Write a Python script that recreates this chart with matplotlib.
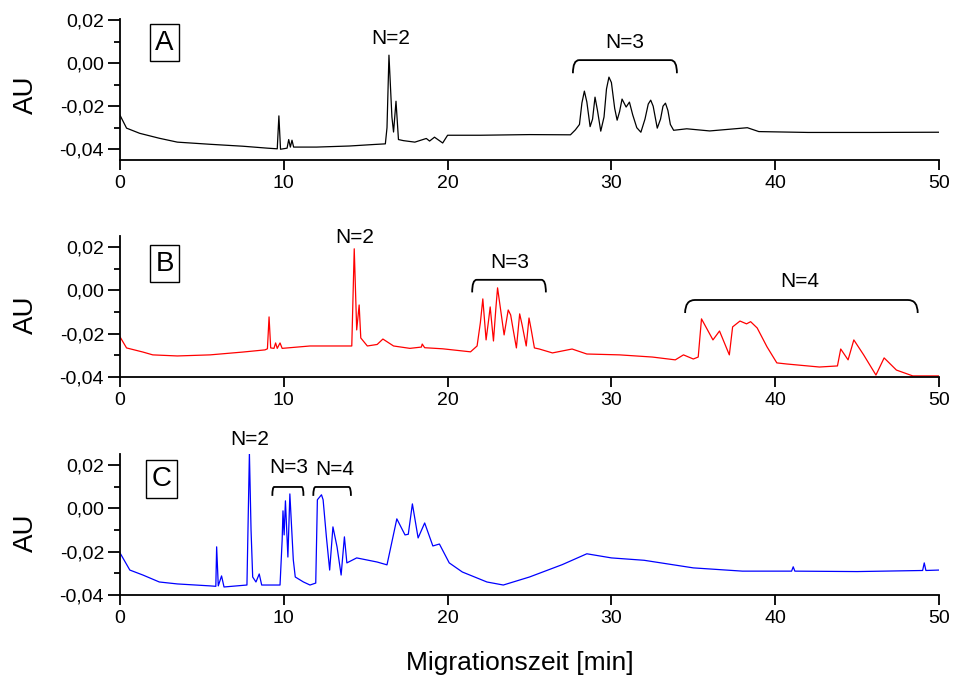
import matplotlib
matplotlib.use("Agg")
import matplotlib.pyplot as plt
from matplotlib.path import Path
from matplotlib.patches import PathPatch
from matplotlib.ticker import FuncFormatter, MultipleLocator

plt.rcParams['font.family'] = ['Liberation Sans', 'DejaVu Sans']

# --- Elektropherogramm A (schwarz) ---
t_a = [0, 0.4, 1.2, 2.4, 3.5, 5.5, 7.5, 9.0, 9.6, 9.7, 9.8, 10.2, 10.3, 10.4,
       10.5, 10.6, 12, 14, 15.5, 16.2, 16.3, 16.42, 16.6, 16.7, 16.85, 17.0,
       17.3, 18.0, 18.7, 18.9, 19.2, 19.7, 20.0, 22, 25, 27.5, 27.8, 28.05,
       28.2, 28.35, 28.5, 28.7, 28.85, 29.0, 29.15, 29.35, 29.55, 29.7, 29.85,
       30.0, 30.2, 30.35, 30.5, 30.65, 30.9, 31.1, 31.3, 31.55, 31.8, 32.05,
       32.25, 32.4, 32.55, 32.8, 33.0, 33.15, 33.3, 33.45, 33.6, 33.8, 34.6,
       36, 38.3, 39, 42, 46, 50]
au_a = [-0.0242, -0.0302, -0.0326, -0.0349, -0.0367, -0.0377, -0.0386, -0.0395,
        -0.0398, -0.0245, -0.0400, -0.0395, -0.0355, -0.0390, -0.0358, -0.0390,
        -0.0390, -0.0385, -0.0378, -0.0375, -0.0300, 0.0037, -0.0250, -0.0320,
        -0.0177, -0.0355, -0.0360, -0.0367, -0.0350, -0.0362, -0.0344, -0.0371,
        -0.0335, -0.0335, -0.0332, -0.0333, -0.0310, -0.0285, -0.0185, -0.0130,
        -0.0180, -0.0295, -0.0260, -0.0158, -0.0220, -0.0316, -0.0250, -0.0120,
        -0.0065, -0.0090, -0.0210, -0.0265, -0.0225, -0.0167, -0.0204, -0.0181,
        -0.0240, -0.0300, -0.0321, -0.0260, -0.0190, -0.0172, -0.0200, -0.0302,
        -0.0260, -0.0200, -0.0186, -0.0220, -0.0285, -0.0312, -0.0305, -0.0315,
        -0.0300, -0.0318, -0.0322, -0.0322, -0.0321]

# --- Elektropherogramm B (rot) ---
t_b = [0, 0.4, 1.4, 2.0, 3.5, 5.5, 7.5, 8.85, 9.0, 9.1, 9.2, 9.4, 9.5, 9.6,
       9.77, 9.9, 11.6, 13.6, 14.15, 14.3, 14.45, 14.6, 14.7, 15.1, 15.7,
       16.05, 16.7, 17.7, 18.4, 18.45, 18.6, 19.7, 21.4, 21.8, 22.0, 22.15,
       22.35, 22.5, 22.6, 22.8, 22.95, 23.05, 23.2, 23.45, 23.7, 23.85, 24.0,
       24.2, 24.4, 24.55, 24.8, 24.97, 25.1, 25.3, 25.6, 26.4, 27.6, 28.5,
       30.5, 32.5, 33.9, 34.4, 35.0, 35.3, 35.5, 36.2, 36.6, 37.2, 37.4, 37.85,
       38.25, 38.5, 38.9, 39.5, 40.1, 40.7, 42.7, 43.8, 44.0, 44.45, 44.8,
       45.4, 46.15, 46.65, 47.4, 48.4, 50]
au_b = [-0.0215, -0.0266, -0.0285, -0.0298, -0.0303, -0.0298, -0.0285, -0.0275,
        -0.0270, -0.0123, -0.0266, -0.0268, -0.0243, -0.0268, -0.0243, -0.0268,
        -0.0257, -0.0257, -0.0257, 0.0191, -0.0183, -0.0068, -0.0220, -0.0257,
        -0.0250, -0.0225, -0.0257, -0.0268, -0.0262, -0.0248, -0.0265, -0.0270,
        -0.0284, -0.0257, -0.0150, -0.0040, -0.0229, -0.0140, -0.0077, -0.0234,
        -0.0080, 0.0011, -0.0070, -0.0206, -0.0091, -0.0114, -0.0180, -0.0266,
        -0.0109, -0.0160, -0.0257, -0.0128, -0.0180, -0.0266, -0.0271, -0.0289,
        -0.0271, -0.0294, -0.0298, -0.0308, -0.0321, -0.0298, -0.0317, -0.0308,
        -0.0132, -0.0229, -0.0188, -0.0298, -0.0169, -0.0142, -0.0155, -0.0145,
        -0.0174, -0.0261, -0.0335, -0.0340, -0.0354, -0.0349, -0.0271, -0.0321,
        -0.0229, -0.0298, -0.0391, -0.0312, -0.0368, -0.0395, -0.0395]

# --- Elektropherogramm C (blau) ---
t_c = [0, 0.6, 1.4, 2.4, 3.5, 5.5, 5.85, 5.9, 6.0, 6.2, 6.35, 7.75, 7.9, 8.0,
       8.1, 8.3, 8.5, 8.65, 9.77, 9.9, 9.95, 10.02, 10.1, 10.25, 10.37, 10.58,
       10.7, 11.2, 11.6, 11.95, 12.05, 12.3, 12.4, 12.6, 12.8, 13.0, 13.25,
       13.5, 13.7, 13.85, 14.45, 15.7, 16.3, 16.9, 17.4, 17.6, 17.85, 18.2,
       18.6, 19.1, 19.5, 20.1, 20.9, 22.4, 23.4, 25.0, 27.0, 28.5, 30.0, 32.0,
       35.0, 38.0, 41.0, 41.1, 41.2, 45, 49.0, 49.1, 49.2, 50]
au_c = [-0.0206, -0.0285, -0.0308, -0.0340, -0.0349, -0.0358, -0.0360, -0.0178,
        -0.0358, -0.0312, -0.0363, -0.0354, 0.0255, -0.0100, -0.0317, -0.0340,
        -0.0303, -0.0354, -0.0354, -0.0146, -0.0012, -0.0123, 0.0034, -0.0225,
        0.0066, -0.0238, -0.0317, -0.0340, -0.0354, -0.0345, 0.0039, 0.0062,
        0.0039, -0.0132, -0.0285, -0.0086, -0.0178, -0.0308, -0.0132, -0.0252,
        -0.0229, -0.0248, -0.0261, -0.0049, -0.0123, -0.0120, 0.0020, -0.0137,
        -0.0068, -0.0174, -0.0165, -0.0252, -0.0294, -0.0340, -0.0354, -0.0317,
        -0.0260, -0.0210, -0.0229, -0.0240, -0.0275, -0.0290, -0.0290, -0.0270,
        -0.0290, -0.0292, -0.0287, -0.0252, -0.0287, -0.0285]

x_ticks = [0, 10, 20, 30, 40, 50]
y_ticks = [-0.04, -0.02, 0.00, 0.02]


def comma_fmt(v, pos):
    return f"{v:.2f}".replace(".", ",").replace("-0,00", "0,00")


def bracket(ax, x1, x2, y_top, y_end):
    r = min((x2 - x1) * 0.06, 0.6)
    verts = [(x1, y_end), (x1, y_top), (x1 + r, y_top),
             (x2 - r, y_top),
             (x2, y_top), (x2, y_end)]
    codes = [Path.MOVETO, Path.CURVE3, Path.CURVE3, Path.LINETO,
             Path.CURVE3, Path.CURVE3]
    ax.add_patch(PathPatch(Path(verts, codes), fill=False, lw=1.3,
                           color="black", clip_on=False))


fig = plt.figure(figsize=(9.55, 6.81), dpi=100)
left, width, height = 120 / 955, 819 / 955, 141 / 681
bottoms = [1 - 160 / 681, 1 - 377 / 681, 1 - 595 / 681]
ylims = [(-0.045, 0.0205), (-0.04, 0.025), (-0.04, 0.025)]
series = [(t_a, au_a, "black"), (t_b, au_b, "red"), (t_c, au_c, "blue")]
panel_lbl = [("A", 2.72, 0.0095), ("B", 2.72, 0.0122), ("C", 2.53, 0.0135)]
au_y = [95, 315, 533]

axes = []
for i in range(3):
    ax = fig.add_axes([left, bottoms[i], width, height])
    t, au, col = series[i]
    ax.plot(t, au, color=col, lw=0.9)
    ax.set_xlim(0, 50)
    ax.set_ylim(*ylims[i])
    ax.set_xticks(x_ticks)
    ax.set_yticks(y_ticks)
    ax.yaxis.set_minor_locator(MultipleLocator(0.01))
    ax.yaxis.set_major_formatter(FuncFormatter(comma_fmt))
    for s in ["top", "right"]:
        ax.spines[s].set_visible(False)
    for s in ["left", "bottom"]:
        ax.spines[s].set_linewidth(1.3)
    ax.tick_params(axis="x", which="major", direction="out", length=7.5,
                   width=1.3, labelsize=14, pad=3)
    ax.tick_params(axis="y", which="major", direction="out", length=8.5,
                   width=1.3, labelsize=14, pad=3)
    ax.tick_params(axis="y", which="minor", direction="out", length=4,
                   width=1.3)
    lbl, lx, ly = panel_lbl[i]
    ax.text(lx, ly, lbl, fontsize=20, ha="center", va="center",
            bbox=dict(boxstyle="square,pad=0.2", fc="white", ec="black", lw=1))
    fig.text(26 / 955, 1 - au_y[i] / 681, "AU", rotation=90, fontsize=20,
             ha="center", va="center")
    axes.append(ax)

ax_a, ax_b, ax_c = axes

ax_a.text(16.5, 0.0116, "N=2", fontsize=15, ha="center", va="center")
ax_a.text(30.8, 0.0098, "N=3", fontsize=15, ha="center", va="center")
bracket(ax_a, 27.65, 34.0, 0.0014, -0.0047)

ax_b.text(14.3, 0.0242, "N=2", fontsize=15, ha="center", va="center")
ax_b.text(23.8, 0.0130, "N=3", fontsize=15, ha="center", va="center")
bracket(ax_b, 21.5, 26.0, 0.0048, -0.0010)
ax_b.text(41.5, 0.0039, "N=4", fontsize=15, ha="center", va="center")
bracket(ax_b, 34.5, 48.7, -0.0045, -0.0105)

ax_c.text(7.94, 0.0315, "N=2", fontsize=15, ha="center", va="center")
ax_c.text(10.3, 0.0190, "N=3", fontsize=15, ha="center", va="center")
bracket(ax_c, 9.3, 11.2, 0.0098, 0.0057)
ax_c.text(13.1, 0.0177, "N=4", fontsize=15, ha="center", va="center")
bracket(ax_c, 11.8, 14.1, 0.0098, 0.0057)

fig.text((405 + 634) / 2 / 955, 1 - 663 / 681, "Migrationszeit [min]",
         fontsize=19, ha="center", va="center")

fig.savefig("out.png", dpi=100)
